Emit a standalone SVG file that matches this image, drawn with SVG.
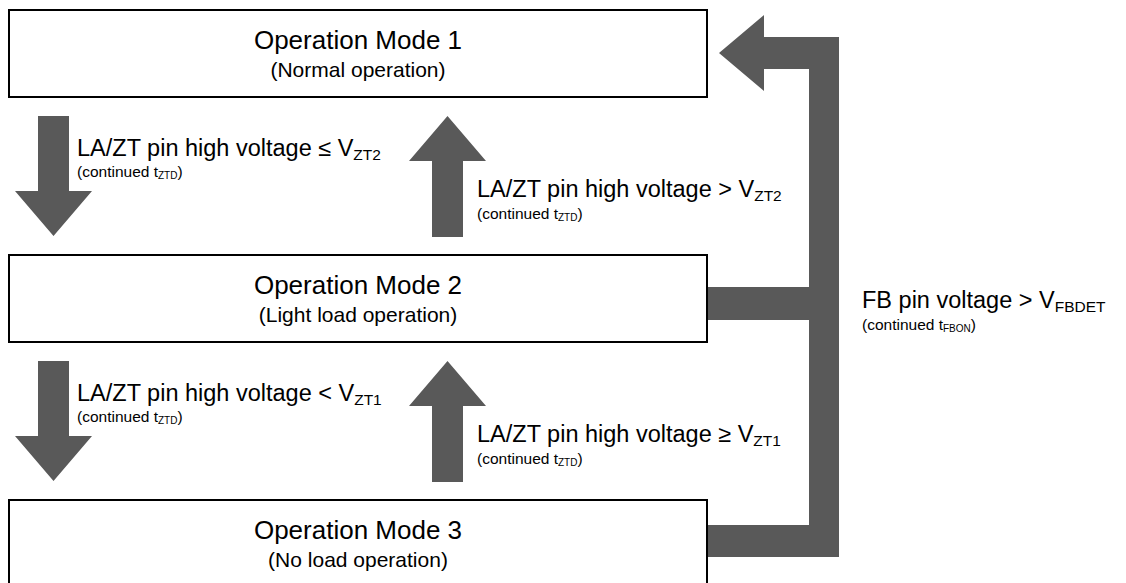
<svg xmlns="http://www.w3.org/2000/svg" width="1126" height="583" viewBox="0 0 1126 583">
<style>
.box{fill:#fff;stroke:#000;stroke-width:2}
.arr{fill:#595959;stroke:none}
text{font-family:"Liberation Sans",Arial,sans-serif;fill:#000}
.t{font-size:26px;text-anchor:middle}
.s{font-size:21px;text-anchor:middle}
.l{font-size:23.5px}
.c{font-size:15.5px}
.sub{font-size:15.5px}
.csub{font-size:10px}
</style>
<rect width="1126" height="583" fill="#fff"/>
<g id="connectors">
<polygon class="arr" points="38,116 69,116 69,191 92,191 53.5,236 15,191 38,191"/>
<polygon class="arr" points="432,237 463,237 463,161 486,161 447.5,116 409,161 432,161"/>
<polygon class="arr" points="38,361 69,361 69,436 92,436 53.5,481 15,436 38,436"/>
<polygon class="arr" points="432,482 463,482 463,406 486,406 447.5,361 409,406 432,406"/>
<polygon class="arr" points="719,53 764,15 764,37 839,37 839,557 707,557 707,525 809,525 809,320 707,320 707,287 809,287 809,69 764,69 764,91"/>
</g>
<g id="mode1">
<rect class="box" x="9" y="10" width="698" height="87"/>
<text class="t" x="358" y="49">Operation Mode 1</text>
<text class="s" x="358" y="77">(Normal operation)</text>
</g>
<g id="mode2">
<rect class="box" x="9" y="255" width="698" height="87"/>
<text class="t" x="358" y="294">Operation Mode 2</text>
<text class="s" x="358" y="322">(Light load operation)</text>
</g>
<g id="mode3">
<rect class="box" x="9" y="500" width="698" height="90"/>
<text class="t" x="358" y="539">Operation Mode 3</text>
<text class="s" x="358" y="567">(No load operation)</text>
</g>
<g id="labels">
<text class="l" x="77" y="156">LA/ZT pin high voltage ≤ V<tspan class="sub" dy="4">ZT2</tspan></text>
<text class="c" x="77" y="177">(continued t<tspan class="csub" dy="2">ZTD</tspan><tspan dy="-2">)</tspan></text>
<text class="l" x="477" y="197">LA/ZT pin high voltage &gt; V<tspan class="sub" dy="4">ZT2</tspan></text>
<text class="c" x="477" y="219">(continued t<tspan class="csub" dy="2">ZTD</tspan><tspan dy="-2">)</tspan></text>
<text class="l" x="77" y="401">LA/ZT pin high voltage &lt; V<tspan class="sub" dy="4">ZT1</tspan></text>
<text class="c" x="77" y="422">(continued t<tspan class="csub" dy="2">ZTD</tspan><tspan dy="-2">)</tspan></text>
<text class="l" x="477" y="442">LA/ZT pin high voltage ≥ V<tspan class="sub" dy="4">ZT1</tspan></text>
<text class="c" x="477" y="464">(continued t<tspan class="csub" dy="2">ZTD</tspan><tspan dy="-2">)</tspan></text>
<text class="l" x="862" y="308">FB pin voltage &gt; V<tspan class="sub" dy="4">FBDET</tspan></text>
<text class="c" x="862" y="330">(continued t<tspan class="csub" dy="2">FBON</tspan><tspan dy="-2">)</tspan></text>
</g>
</svg>
